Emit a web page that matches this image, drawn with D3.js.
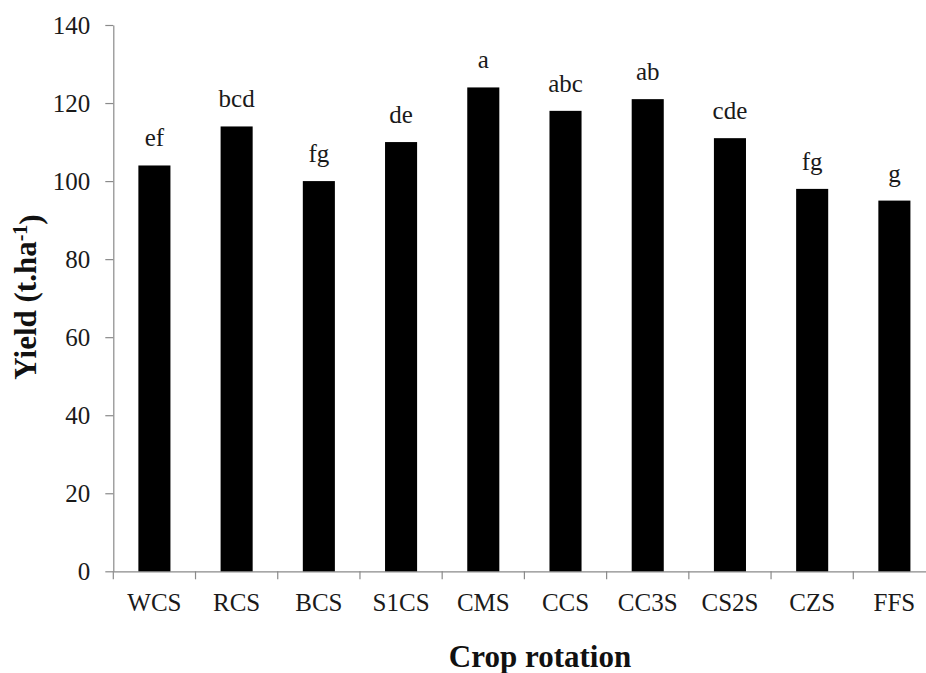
<!DOCTYPE html>
<html>
<head>
<meta charset="utf-8">
<script src="https://cdn.jsdelivr.net/npm/d3@7"></script>
<style>
  body { margin: 0; background: #fff; }
  svg { display: block; }
  .axis text { font-family: "Liberation Serif", "Times New Roman", serif; font-size: 25px; fill: #1a1a1a; }
  .axis line, .axis path { stroke: #8a8a8a; stroke-width: 1.2; }
</style>
</head>
<body>
<svg id="chart"></svg>
<script>
// data
const rotations = ["WCS", "RCS", "BCS", "S1CS", "CMS", "CCS", "CC3S", "CS2S", "CZS", "FFS"];
const yieldValues = [104, 114, 100, 110, 124, 118, 121, 111, 98, 95];
const groupLetters = ["ef", "bcd", "fg", "de", "a", "abc", "ab", "cde", "fg", "g"];
const yTicks = [0, 20, 40, 60, 80, 100, 120, 140];

const width = 926, height = 673;
// plot area (right end runs past the window edge like in the original)
const plot = { left: 113.3, right: 935.5, top: 25, bottom: 571.3 };

const svg = d3.select("#chart")
  .attr("width", width)
  .attr("height", height);

const y = d3.scaleLinear()
  .domain([0, 140])
  .range([plot.bottom, plot.top]);

// one slot per category, for the axis ticks and labels
const slot = d3.scaleBand()
  .domain(rotations)
  .range([plot.left, plot.right])
  .padding(0);

// bars sit inside the slots
const x = d3.scaleBand()
  .domain(rotations)
  .range([plot.left, plot.right])
  .paddingInner(0.61)
  .paddingOuter(0.305);

const rows = rotations.map((r, i) => ({ r, v: yieldValues[i], g: groupLetters[i] }));

// y axis
const yAxis = svg.append("g")
  .attr("class", "axis y-axis")
  .attr("transform", `translate(${plot.left},0)`)
  .call(d3.axisLeft(y).tickValues(yTicks).tickSize(8).tickPadding(15).tickSizeOuter(0));
yAxis.selectAll("text").attr("dy", "0.34em");

// x axis: labels under slot centres, ticks on slot boundaries
const xAxis = svg.append("g")
  .attr("class", "axis x-axis")
  .attr("transform", `translate(0,${plot.bottom})`)
  .call(d3.axisBottom(slot).tickSize(0).tickPadding(22).tickSizeOuter(0));

xAxis.selectAll(".boundary")
  .data(rotations.map(d => slot(d)).concat([slot.range()[1]]))
  .join("line")
  .attr("class", "boundary")
  .attr("x1", d => d)
  .attr("x2", d => d)
  .attr("y1", 0)
  .attr("y2", 8);

// bars
svg.append("g")
  .selectAll("rect")
  .data(rows)
  .join("rect")
  .attr("x", d => x(d.r))
  .attr("y", d => y(d.v))
  .attr("width", x.bandwidth())
  .attr("height", d => y(0) - y(d.v))
  .attr("fill", "#000");

// significance letters
svg.append("g")
  .selectAll("text")
  .data(rows)
  .join("text")
  .attr("x", d => x(d.r) + x.bandwidth() / 2)
  .attr("y", d => y(d.v) - 19)
  .attr("text-anchor", "middle")
  .style("font-family", '"Liberation Serif", "Times New Roman", serif')
  .style("font-size", "25px")
  .style("fill", "#1a1a1a")
  .text(d => d.g);

// axis titles
svg.append("text")
  .attr("x", 540)
  .attr("y", 666.5)
  .attr("text-anchor", "middle")
  .style("font-family", '"Liberation Serif", "Times New Roman", serif')
  .style("font-size", "31px")
  .style("font-weight", "bold")
  .style("fill", "#111")
  .text("Crop rotation");

const yTitle = svg.append("text")
  .attr("transform", "translate(36,297) rotate(-90)")
  .attr("text-anchor", "middle")
  .style("font-family", '"Liberation Serif", "Times New Roman", serif')
  .style("font-size", "31px")
  .style("font-weight", "bold")
  .style("fill", "#111");
yTitle.append("tspan").text("Yield (t.ha");
yTitle.append("tspan").attr("dy", "-0.45em").style("font-size", "20px").text("-1");
yTitle.append("tspan").attr("dy", "0.45em").text(")");
</script>
</body>
</html>
